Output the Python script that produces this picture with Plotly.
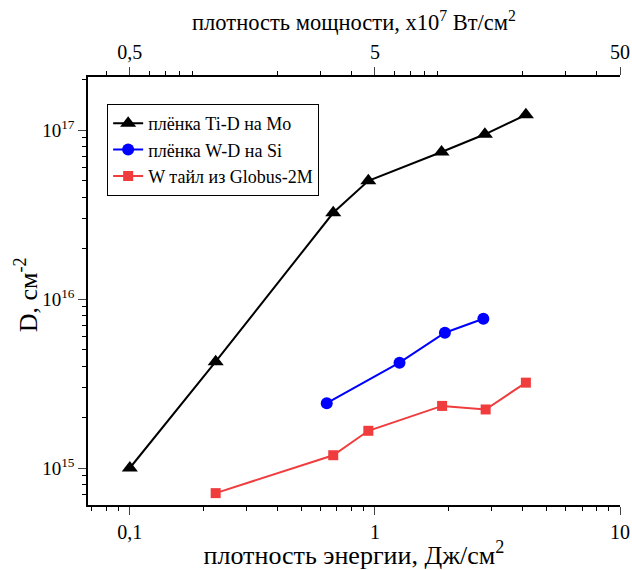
import plotly.graph_objects as go
import numpy as np

# Data
ti_x = [0.1, 0.224, 0.676, 0.94, 1.87, 2.81, 4.13]
ti_y = [1.0e15, 4.26e15, 3.24e16, 5.01e16, 7.41e16, 9.44e16, 1.23e17]
w_x = [0.636, 1.26, 1.93, 2.77]
w_y = [2.42e15, 4.2e15, 6.32e15, 7.64e15]
g_x = [0.224, 0.676, 0.94, 1.88, 2.83, 4.13]
g_y = [7.1e14, 1.19e15, 1.66e15, 2.33e15, 2.22e15, 3.2e15]

names = ["плёнка Ti-D на Mo", "плёнка W-D на Si", "W тайл из Globus-2M"]
x_ticks = [0.1, 1, 10]
x_ticktext = ["0,1", "1", "10"]
top_ticks = [0.5, 5, 50]
top_ticktext = ["0,5", "5", "50"]
y_ticks = [1e15, 1e16, 1e17]
y_ticktext = ["10<sup>15</sup>", "10<sup>16</sup>", "10<sup>17</sup>"]
power_factor = 5  # x10^7 W/cm^2 per J/cm^2

FONT = "Liberation Serif, Times New Roman, serif"

def minors(lo, hi):
    vals = []
    for e in range(lo, hi + 1):
        for m in range(2, 10):
            vals.append(m * 10.0 ** e)
    return vals

fig = go.Figure()
fig.add_trace(go.Scatter(x=ti_x, y=ti_y, mode="lines+markers", name=names[0],
                         line=dict(color="black", width=2),
                         marker=dict(symbol="triangle-up", size=14, color="black")))
fig.add_trace(go.Scatter(x=w_x, y=w_y, mode="lines+markers", name=names[1],
                         line=dict(color="#0000ff", width=2),
                         marker=dict(symbol="circle", size=12, color="#0000ff")))
fig.add_trace(go.Scatter(x=g_x, y=g_y, mode="lines+markers", name=names[2],
                         line=dict(color="#f03c3c", width=2),
                         marker=dict(symbol="square", size=10, color="#f03c3c")))
# invisible trace to activate the top axis
fig.add_trace(go.Scatter(x=[v * power_factor for v in ti_x], y=ti_y, xaxis="x2",
                         mode="markers", marker=dict(opacity=0), showlegend=False,
                         hoverinfo="skip"))

xr = [np.log10(0.0675), 1.0]
fig.update_layout(
    width=632, height=570,
    margin=dict(l=88, r=12, t=77, b=65),
    paper_bgcolor="white", plot_bgcolor="white",
    font=dict(family=FONT, color="black", size=20),
    showlegend=True,
    legend=dict(x=0.036, y=0.937, xanchor="left", yanchor="top",
                bordercolor="black", borderwidth=1, bgcolor="white",
                font=dict(size=18, family=FONT), tracegroupgap=0),
    xaxis=dict(type="log", range=xr, tickvals=x_ticks, ticktext=x_ticktext, automargin=False,
               ticks="outside", ticklen=8, tickwidth=1, showline=True, linecolor="black",
               linewidth=1.5, showgrid=False, zeroline=False, mirror=False,
               tickfont=dict(size=20),
               minor=dict(tickmode="array", tickvals=minors(-2, 0), ticks="outside",
                          ticklen=4, tickcolor="black", showgrid=False),
               title=dict(text="плотность энергии, Дж/см<sup>2</sup>", font=dict(size=26), standoff=4)),
    xaxis2=dict(type="log", overlaying="x", side="top", anchor="y", automargin=False,
                range=[xr[0] + np.log10(power_factor), xr[1] + np.log10(power_factor)],
                tickvals=top_ticks, ticktext=top_ticktext,
                ticks="outside", ticklen=8, tickwidth=1, showline=True, linecolor="black",
                linewidth=1.5, showgrid=False, zeroline=False,
                tickfont=dict(size=20),
                minor=dict(tickmode="array", tickvals=minors(-1, 1), ticks="outside",
                           ticklen=4, tickcolor="black", showgrid=False),
                title=dict(text="плотность мощности, x10<sup>7</sup> Вт/см<sup>2</sup>", font=dict(size=22.5), standoff=4)),
    yaxis=dict(type="log", range=[14.781, 17.314], tickvals=y_ticks, ticktext=y_ticktext, automargin=False,
               ticks="outside", ticklen=8, tickwidth=1, showline=True, linecolor="black",
               linewidth=1.5, showgrid=False, zeroline=False,
               tickfont=dict(size=19),
               minor=dict(tickmode="array", tickvals=minors(14, 17), ticks="outside",
                          ticklen=4, tickcolor="black", showgrid=False)),
    annotations=[dict(text="D, см<sup>-2</sup>", xref="paper", yref="paper",
                      x=-0.1165, y=0.49, xanchor="center", yanchor="middle",
                      textangle=-90, showarrow=False, font=dict(size=26))],
)
fig.write_html("out.html")
